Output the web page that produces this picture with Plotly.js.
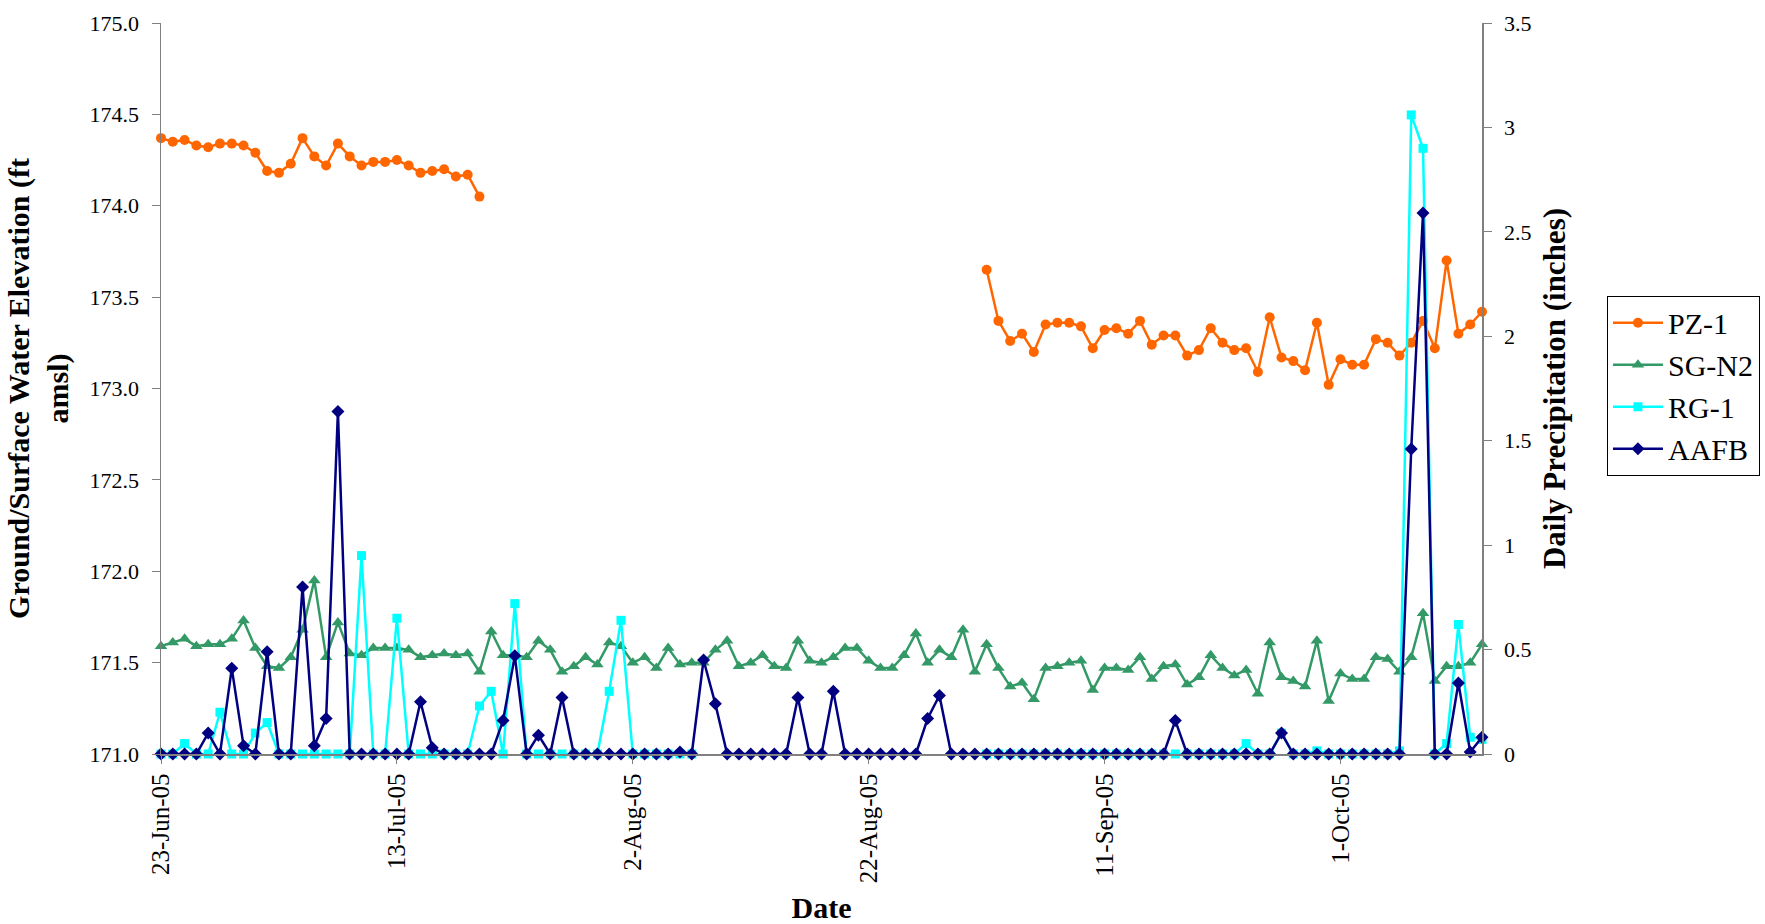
<!DOCTYPE html>
<html>
<head>
<meta charset="utf-8">
<script src="https://cdn.plot.ly/plotly-3.0.1.min.js"></script>
<style>html,body{margin:0;padding:0;background:#fff;}#chart{width:1765px;height:924px;}</style>
</head>
<body>
<div id="chart"></div>
<script>
// Daily dates, 23-Jun-2005 .. 13-Oct-2005 (113 days)
const dates = [
  "2005-06-23","2005-06-24","2005-06-25","2005-06-26","2005-06-27","2005-06-28","2005-06-29","2005-06-30",
  "2005-07-01","2005-07-02","2005-07-03","2005-07-04","2005-07-05","2005-07-06","2005-07-07","2005-07-08","2005-07-09","2005-07-10",
  "2005-07-11","2005-07-12","2005-07-13","2005-07-14","2005-07-15","2005-07-16","2005-07-17","2005-07-18","2005-07-19","2005-07-20",
  "2005-07-21","2005-07-22","2005-07-23","2005-07-24","2005-07-25","2005-07-26","2005-07-27","2005-07-28","2005-07-29","2005-07-30","2005-07-31",
  "2005-08-01","2005-08-02","2005-08-03","2005-08-04","2005-08-05","2005-08-06","2005-08-07","2005-08-08","2005-08-09","2005-08-10",
  "2005-08-11","2005-08-12","2005-08-13","2005-08-14","2005-08-15","2005-08-16","2005-08-17","2005-08-18","2005-08-19","2005-08-20",
  "2005-08-21","2005-08-22","2005-08-23","2005-08-24","2005-08-25","2005-08-26","2005-08-27","2005-08-28","2005-08-29","2005-08-30","2005-08-31",
  "2005-09-01","2005-09-02","2005-09-03","2005-09-04","2005-09-05","2005-09-06","2005-09-07","2005-09-08","2005-09-09","2005-09-10",
  "2005-09-11","2005-09-12","2005-09-13","2005-09-14","2005-09-15","2005-09-16","2005-09-17","2005-09-18","2005-09-19","2005-09-20",
  "2005-09-21","2005-09-22","2005-09-23","2005-09-24","2005-09-25","2005-09-26","2005-09-27","2005-09-28","2005-09-29","2005-09-30",
  "2005-10-01","2005-10-02","2005-10-03","2005-10-04","2005-10-05","2005-10-06","2005-10-07","2005-10-08","2005-10-09","2005-10-10",
  "2005-10-11","2005-10-12","2005-10-13"
];

// PZ-1 groundwater elevation (ft amsl); null = no reading
const pz1 = [
  174.37,174.35,174.36,174.33,174.32,174.34,174.34,174.33,174.29,174.19,   // d0-9
  174.18,174.23,174.37,174.27,174.22,174.34,174.27,174.22,174.24,174.24,   // d10-19
  174.25,174.22,174.18,174.19,174.20,174.16,174.17,174.05,null,null,       // d20-29
  null,null,null,null,null,null,null,null,null,null,                       // d30-39
  null,null,null,null,null,null,null,null,null,null,                       // d40-49
  null,null,null,null,null,null,null,null,null,null,                       // d50-59
  null,null,null,null,null,null,null,null,null,null,                       // d60-69
  173.65,173.37,173.26,173.30,173.20,173.35,173.36,173.36,173.34,173.22,   // d70-79
  173.32,173.33,173.30,173.37,173.24,173.29,173.29,173.18,173.21,173.33,   // d80-89
  173.25,173.21,173.22,173.09,173.39,173.17,173.15,173.10,173.36,173.02,   // d90-99
  173.16,173.13,173.13,173.27,173.25,173.18,173.25,173.37,173.22,173.70,   // d100-109
  173.30,173.35,173.42                                                     // d110-112
];

// SG-N2 surface water elevation (ft amsl)
const sgn2 = [
  171.59,171.61,171.63,171.59,171.60,171.60,171.63,171.73,171.58,171.48,
  171.47,171.53,171.68,171.95,171.53,171.72,171.55,171.54,171.58,171.58,
  171.58,171.57,171.53,171.54,171.55,171.54,171.55,171.45,171.67,171.54,
  171.54,171.53,171.62,171.57,171.45,171.48,171.53,171.49,171.61,171.59,
  171.50,171.53,171.47,171.58,171.49,171.50,171.50,171.57,171.62,171.48,
  171.50,171.54,171.48,171.47,171.62,171.51,171.50,171.53,171.58,171.58,
  171.51,171.47,171.47,171.54,171.66,171.50,171.57,171.53,171.68,171.45,
  171.60,171.47,171.37,171.39,171.30,171.47,171.48,171.50,171.51,171.35,
  171.47,171.47,171.46,171.53,171.41,171.48,171.49,171.38,171.42,171.54,
  171.47,171.43,171.46,171.33,171.61,171.42,171.40,171.37,171.62,171.29,
  171.44,171.41,171.41,171.53,171.52,171.45,171.53,171.77,171.40,171.48,
  171.48,171.50,171.60
];

// RG-1 daily precipitation (inches); null = no record
const rg1 = [
  0,0,0.05,0,0,0.20,0,0,0.10,0.15,
  0,0,0,0,0,0,0,0.95,0,0,
  0.65,0,0,0,0,0,0,0.23,0.30,0,
  0.72,0,0,0,0,0,0,0,0.30,0.64,
  0,0,0,0,0,0,null,null,null,null,
  null,null,null,null,null,null,null,null,null,null,
  null,null,null,null,null,null,null,null,null,null,
  0,0,0,0,0,0,0,0,0,0,
  0,0,0,0,0,0,0,0,0,0,
  0,0,0.05,0,0,0.10,0,0,0.015,0,
  0,0,0,0,0,0.015,3.06,2.90,0,0.05,
  0.62,0.08,0.07
];

// AAFB daily precipitation (inches)
const aafb = [
  0,0,0,0,0.10,0,0.41,0.04,0,0.49,
  0,0,0.80,0.04,0.17,1.64,0,0,0,0,
  0,0,0.25,0.03,0,0,0,0,0,0.16,
  0.47,0,0.09,0,0.27,0,0,0,0,0,
  0,0,0,0,0.01,0,0.45,0.24,0,0,
  0,0,0,0,0.27,0,0,0.30,0,0,
  0,0,0,0,0,0.17,0.28,0,0,0,
  0,0,0,0,0,0,0,0,0,0,
  0,0,0,0,0,0,0.16,0,0,0,
  0,0,0,0,0,0.10,0,0,0,0,
  0,0,0,0,0,0,1.46,2.59,0,0,
  0.34,0.01,0.08
];

const xTickVals = ["2005-06-23","2005-07-13","2005-08-02","2005-08-22","2005-09-11","2005-10-01"];
const xTickText = ["23-Jun-05","13-Jul-05","2-Aug-05","22-Aug-05","11-Sep-05","1-Oct-05"];

const serif = "Liberation Serif, Times New Roman, serif";
const axisColor = "#808080";

const traces = [
  {x: dates, y: pz1, name: "PZ-1", type: "scatter", mode: "lines+markers", yaxis: "y",
   line: {color: "#FF6600", width: 2.5}, marker: {symbol: "circle", size: 10, color: "#FF6600"},
   connectgaps: false, cliponaxis: false, legendgroup: "a"},
  {x: dates, y: sgn2, name: "SG-N2", type: "scatter", mode: "lines+markers", yaxis: "y",
   line: {color: "#339966", width: 2.5}, marker: {symbol: "triangle-up", size: 11, color: "#339966"},
   cliponaxis: false, legendgroup: "b"},
  {x: dates, y: rg1, name: "RG-1", type: "scatter", mode: "lines+markers", yaxis: "y2",
   line: {color: "#00FFFF", width: 2.5}, marker: {symbol: "square", size: 9, color: "#00FFFF"},
   connectgaps: false, cliponaxis: false, legendgroup: "c"},
  {x: dates, y: aafb, name: "AAFB", type: "scatter", mode: "lines+markers", yaxis: "y2",
   line: {color: "#000080", width: 2.5}, marker: {symbol: "diamond", size: 10, color: "#000080"},
   cliponaxis: false, legendgroup: "d"}
];

const layout = {
  width: 1765, height: 924,
  margin: {l: 161, r: 283, t: 23, b: 170, pad: 0, autoexpand: false},
  paper_bgcolor: "#fff", plot_bgcolor: "#fff",
  font: {family: serif, color: "#000", size: 22},
  showlegend: true,
  legend: {
    x: 1.0946, y: 0.627, xanchor: "left", yanchor: "top",
    bordercolor: "#000", borderwidth: 1, bgcolor: "#fff",
    font: {family: serif, size: 30, color: "#000"},
    tracegroupgap: 11, traceorder: "normal", itemwidth: 50
  },
  xaxis: {
    type: "date", range: ["2005-06-23", "2005-10-13"],
    tickmode: "array", tickvals: xTickVals, ticktext: xTickText,
    tickangle: -90, ticks: "outside", ticklen: 8, tickcolor: axisColor,
    showline: true, linecolor: axisColor, linewidth: 1.5, showgrid: false, zeroline: false,
    tickfont: {family: serif, size: 25, color: "#000"},
    title: {text: "<b>Date</b>", font: {family: serif, size: 30, color: "#000"}, standoff: 18}
  },
  yaxis: {
    range: [171, 175], dtick: 0.5, tick0: 171, tickformat: ".1f",
    ticks: "outside", ticklen: 8, tickcolor: axisColor,
    showline: true, linecolor: axisColor, linewidth: 1.5, showgrid: false, zeroline: false,
    tickfont: {family: serif, size: 22, color: "#000"}, ticklabelstandoff: 8,
    title: {text: "<b>Ground/Surface Water Elevation (ft<br>amsl)</b>", font: {family: serif, size: 30, color: "#000"}, standoff: 12}
  },
  yaxis2: {
    overlaying: "y", side: "right", range: [0, 3.5], dtick: 0.5, tick0: 0,
    ticks: "outside", ticklen: 8, tickcolor: axisColor,
    showline: true, linecolor: axisColor, linewidth: 1.5, showgrid: false, zeroline: false,
    tickfont: {family: serif, size: 22, color: "#000"}, ticklabelstandoff: 8,
    title: {text: "<b>Daily Precipitation (inches)</b>", font: {family: serif, size: 31, color: "#000"}, standoff: 13}
  }
};

Plotly.newPlot("chart", traces, layout, {staticPlot: true, displayModeBar: false});
</script>
</body>
</html>
